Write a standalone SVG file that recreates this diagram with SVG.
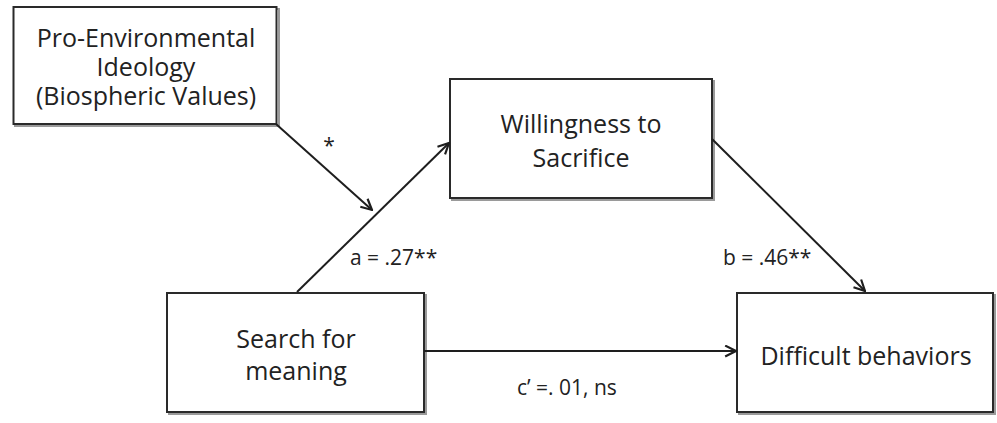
<svg xmlns="http://www.w3.org/2000/svg" width="997" height="423" viewBox="0 0 997 423">
<style>
.box{fill:#fff;stroke:#2a2a2a;stroke-width:2}
.shadow{fill:none;stroke:#9a9a9a;stroke-width:2}
.node{font-family:"Open Sans","Liberation Sans",sans-serif;font-size:25px;fill:#222;text-anchor:middle}
.lbl{font-family:"Open Sans","Liberation Sans",sans-serif;font-size:21px;fill:#222}
.edge{stroke:#1e1e1e;stroke-width:2;fill:none;marker-end:url(#arr)}
</style>
<defs>
<marker id="arr" viewBox="0 0 12 12" refX="11" refY="6" markerWidth="13" markerHeight="13" markerUnits="userSpaceOnUse" orient="auto">
<path d="M1,1 L11,6 L1,11" fill="none" stroke="#1e1e1e" stroke-width="2"/>
</marker>
</defs>
<rect width="997" height="423" fill="#fff"/>
<g id="pro-environmental">
<rect class="shadow" x="15" y="9" width="264" height="117"/>
<rect class="box" x="13.5" y="7" width="263" height="117"/>
<text class="node" x="146" y="47">Pro-Environmental</text>
<text class="node" x="146" y="76">Ideology</text>
<text class="node" x="146" y="105">(Biospheric Values)</text>
</g>
<g id="willingness">
<rect class="shadow" x="452" y="81" width="262" height="119"/>
<rect class="box" x="450" y="79" width="262" height="119"/>
<text class="node" x="581" y="133">Willingness to</text>
<text class="node" x="581" y="167">Sacrifice</text>
</g>
<g id="search">
<rect class="shadow" x="169" y="295" width="257" height="119"/>
<rect class="box" x="167" y="293" width="257" height="119"/>
<text class="node" x="296" y="348">Search for</text>
<text class="node" x="296" y="380">meaning</text>
</g>
<g id="difficult">
<rect class="shadow" x="739" y="295" width="256" height="119"/>
<rect class="box" x="737" y="293" width="256" height="119"/>
<text class="node" x="866" y="365">Difficult behaviors</text>
</g>
<g id="connectors">
<line class="edge" x1="276" y1="124" x2="372" y2="210"/>
<line class="edge" x1="297" y1="292" x2="449" y2="143"/>
<line class="edge" x1="712" y1="139" x2="865" y2="291"/>
<line class="edge" x1="424" y1="351" x2="736" y2="351"/>
<text class="lbl" x="329" y="153" text-anchor="middle">*</text>
<text class="lbl" x="350" y="265">a = .27**</text>
<text class="lbl" x="723" y="265">b = .46**</text>
<text class="lbl" x="517" y="395">c’ =. 01, ns</text>
</g>
</svg>
